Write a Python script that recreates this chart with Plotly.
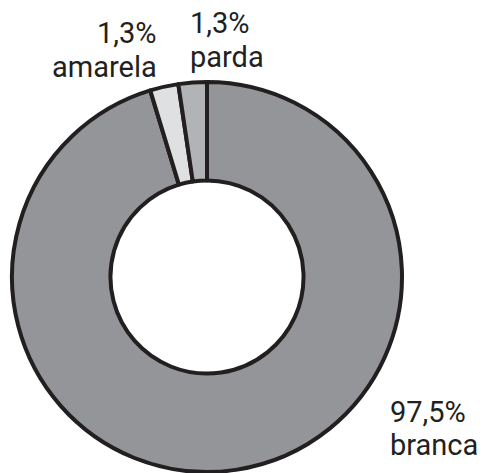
import plotly.graph_objects as go

W, H = 484, 473

categories = ["branca", "amarela", "parda"]
# printed percentages
values = [97.5, 1.3, 1.3]
# slice sizes as drawn in the picture (small slices drawn enlarged for legibility)
drawn_values = [95.3, 2.35, 2.35]
colors = ["#939598", "#dfe0e2", "#b1b3b6"]

def fmt(v):
    return f"{v:.1f}%".replace(".", ",")

fig = go.Figure(go.Pie(
    labels=categories,
    values=drawn_values,
    customdata=[fmt(v) for v in values],
    sort=False,
    direction="clockwise",
    rotation=0,
    hole=0.495,
    marker=dict(colors=colors, line=dict(color="#231f20", width=4)),
    textinfo="none",
    hovertemplate="%{label}: %{customdata}<extra></extra>",
    showlegend=False,
    domain=dict(x=[12 / W, 402 / W], y=[1 - 472 / H, 1 - 82 / H]),
))

# label placement (pixel positions: x, anchor, center of line 1, center of line 2)
label_pos = {
    "amarela": (158, "right", 33, 67),
    "parda": (189, "left", 23, 57),
    "branca": (389, "left", 412, 445),
}

font = dict(family="Roboto", size=29, color="#231f20")
annotations = []
for cat, val in zip(categories, values):
    x, anchor, y1, y2 = label_pos[cat]
    for txt, yy in ((fmt(val), y1), (cat, y2)):
        annotations.append(dict(
            x=x / W, y=1 - yy / H, xref="paper", yref="paper",
            xanchor=anchor, yanchor="middle", text=txt, showarrow=False,
            font=font, borderpad=0, align=anchor,
        ))

fig.update_layout(
    width=W, height=H,
    margin=dict(l=0, r=0, t=0, b=0),
    paper_bgcolor="white", plot_bgcolor="white",
    annotations=annotations,
)

fig.write_html("out.html", config={"displayModeBar": False},
               post_script="document.body.style.margin='0';")
